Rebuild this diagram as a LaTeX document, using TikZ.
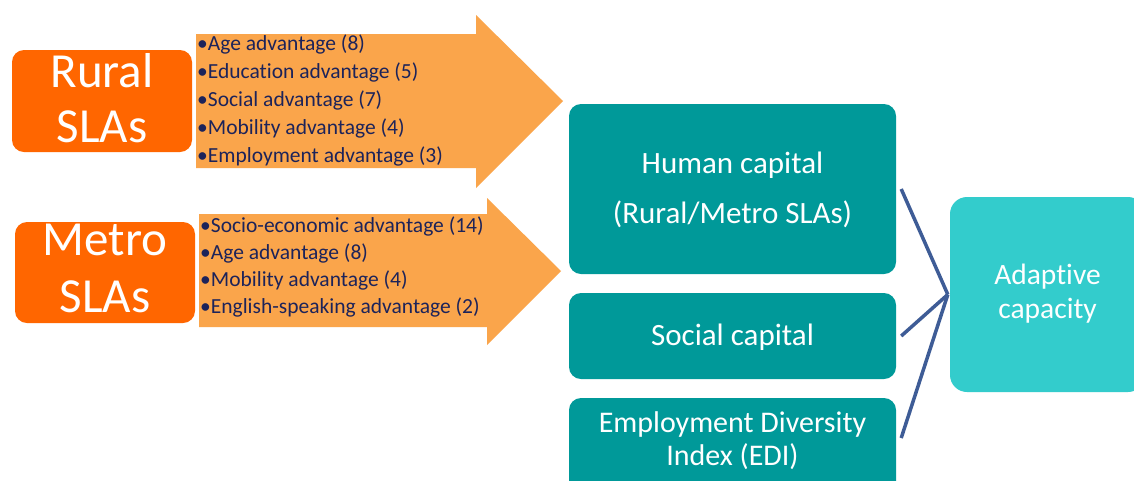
\documentclass[tikz,border=0pt]{standalone}
\usepackage{fontspec}
\setmainfont{Carlito}[Ligatures={NoCommon}]
\definecolor{slaorange}{RGB}{255,102,0}
\definecolor{arroworange}{RGB}{250,165,75}
\definecolor{tealdark}{RGB}{0,153,153}
\definecolor{teallight}{RGB}{51,204,204}
\definecolor{navytext}{RGB}{28,35,90}
\definecolor{linkblue}{RGB}{62,92,150}
\begin{document}
\begin{tikzpicture}[x=1pt,y=-1pt,
  slabox/.style={fill=slaorange, rounded corners=12pt, inner sep=0pt, minimum width=180pt},
  slatext/.style={text=white, font=\fontsize{49}{55}\selectfont, inner sep=0pt, anchor=base},
  bigarrow/.style={fill=arroworange},
  bullettext/.style={text=navytext, font=\fontsize{21.5}{26}\selectfont, inner sep=0pt, anchor=base west},
  capbox/.style={fill=tealdark, rounded corners=12pt, inner sep=0pt, minimum width=327pt},
  captext/.style={text=white, font=\fontsize{31}{36}\selectfont, inner sep=0pt, anchor=base},
  editext/.style={text=white, font=\fontsize{30}{34}\selectfont, inner sep=0pt, anchor=base},
  adaptbox/.style={fill=teallight, rounded corners=17pt, inner sep=0pt},
  adapttext/.style={text=white, font=\fontsize{29.5}{34}\selectfont, inner sep=0pt, anchor=base},
  link/.style={draw=linkblue, line width=3.5pt}
]
\useasboundingbox (0,0) rectangle (1134,480);
\fill[white] (0,0) rectangle (1134,480);

% big arrows
\fill[bigarrow] (196,34) -- (476,34) -- (476,15) -- (563,101) -- (476,188) -- (476,168) -- (196,168) -- cycle;
\fill[bigarrow] (199,214) -- (487,214) -- (487,198) -- (561,271) -- (487,345) -- (487,327) -- (199,327) -- cycle;

% SLA boxes
\node[slabox, minimum height=102pt] (rural) at (102,101) {};
\node[slatext] (ruralt1) at (102,87) {Rural};
\node[slatext] (ruralt2) at (102,142) {SLAs};
\node[slabox, minimum height=101pt] (metro) at (105,272.5) {};
\node[slatext] (metrot1) at (105,255) {Metro};
\node[slatext] (metrot2) at (105,312) {SLAs};

% rural bullets
\node[bullettext] (r1) at (197,50) {•Age advantage (8)};
\node[bullettext] (r2) at (197,78) {•Education advantage (5)};
\node[bullettext] (r3) at (197,106) {•Social advantage (7)};
\node[bullettext] (r4) at (197,134) {•Mobility advantage (4)};
\node[bullettext] (r5) at (197,162) {•Employment advantage (3)};

% metro bullets
\node[bullettext] (m1) at (200,232) {•Socio-economic advantage (14)};
\node[bullettext] (m2) at (200,259) {•Age advantage (8)};
\node[bullettext] (m3) at (200,286) {•Mobility advantage (4)};
\node[bullettext] (m4) at (200,313) {•English-speaking advantage (2)};

% capital boxes
\node[capbox, minimum height=170pt] (human) at (732.5,189) {};
\node[captext] (humant1) at (732.5,173) {Human capital};
\node[captext] (humant2) at (732.5,223) {(Rural/Metro SLAs)};
\node[capbox, minimum height=86pt] (social) at (732.5,336) {};
\node[captext] (socialt) at (732.5,345) {Social capital};
\node[capbox, minimum height=100pt] (edi) at (732.5,448) {};
\node[editext] (edit1) at (732.5,432) {Employment Diversity};
\node[editext] (edit2) at (732.5,465) {Index (EDI)};

% adaptive capacity
\node[adaptbox, minimum width=195pt, minimum height=195pt] (adapt) at (1047.5,294.5) {};
\node[adapttext] (adaptt1) at (1047.5,284) {Adaptive};
\node[adapttext] (adaptt2) at (1047.5,318) {capacity};

% connectors
\coordinate (hub) at ([xshift=-2pt]adapt.west);
\draw[link] ([xshift=5pt]human.east) -- (hub);
\draw[link] ([xshift=5pt]social.east) -- (hub);
\draw[link] ([xshift=5pt,yshift=10pt]edi.east) -- (hub);
\end{tikzpicture}
\end{document}
